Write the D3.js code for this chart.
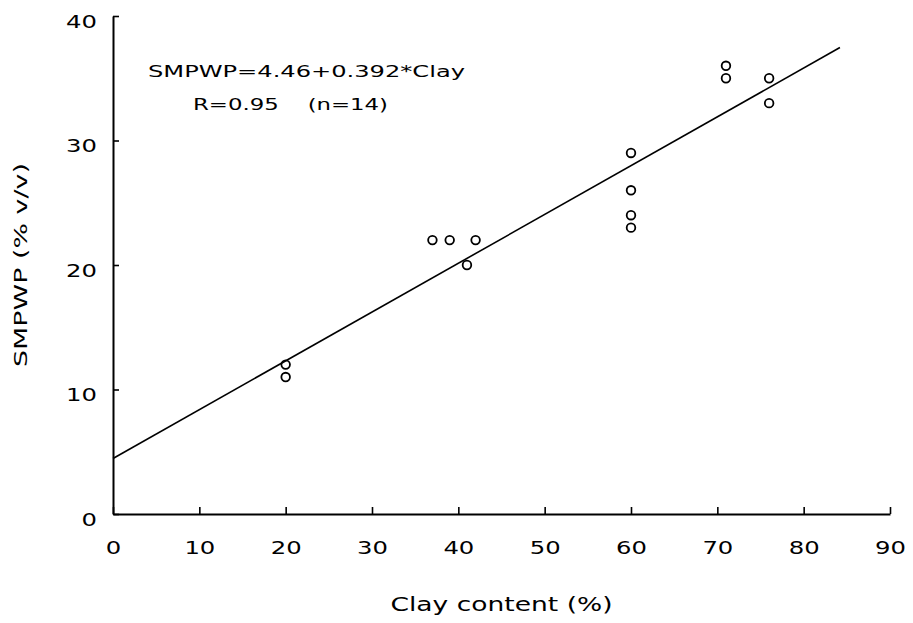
<!DOCTYPE html>
<html>
<head>
<meta charset="utf-8">
<script src="https://cdn.jsdelivr.net/npm/d3@7"></script>
<style>
  body { margin: 0; background: #fff; }
  svg text { font-family: "DejaVu Sans", sans-serif; fill: #000; }
</style>
</head>
<body>
<div id="chart"></div>
<script>
// clay content (%) and SMPWP (% v/v)
const clay = [20, 20, 37, 39, 42, 41, 60, 60, 60, 60, 71, 71, 76, 76];
const smpwp = [12, 11, 22, 22, 22, 20, 29, 26, 24, 23, 36, 35, 35, 33];
const xTicks = [0, 10, 20, 30, 40, 50, 60, 70, 80, 90];
const yTicks = [0, 10, 20, 30, 40];
const fit = { a: 4.46, b: 0.392, xEnd: 84.2 };
const notes = ['SMPWP=4.46+0.392*Clay', 'R=0.95    (n=14)'];

const width = 913;
const height = 623;
const margin = { top: 16, right: 23, bottom: 109, left: 113 };
const innerW = width - margin.left - margin.right;
const innerH = height - margin.top - margin.bottom;

const svg = d3.select('#chart')
  .append('svg')
    .attr('width', width)
    .attr('height', height)
  .append('g')
    .attr('transform', `translate(${margin.left}, ${margin.top})`);

const x = d3.scaleLinear().domain([0, 90]).range([0, innerW]);
const y = d3.scaleLinear().domain([0, 40]).range([innerH, 0]);

// stretch text horizontally, the original font is a wide plotter face
function widen(sel, k) {
  sel.each(function () {
    const w = this.getComputedTextLength();
    d3.select(this)
      .attr('textLength', w * k)
      .attr('lengthAdjust', 'spacingAndGlyphs');
  });
}

function fitWidth(sel, w) {
  sel.attr('textLength', w).attr('lengthAdjust', 'spacingAndGlyphs');
}

// x axis
const xAxis = svg.append('g')
  .attr('transform', `translate(0, ${innerH})`)
  .call(d3.axisBottom(x).tickValues(xTicks).tickSizeInner(-7).tickSizeOuter(0).tickPadding(0));
xAxis.select('.domain').attr('stroke-width', 2);
xAxis.selectAll('.tick line').attr('stroke-width', 1.6);
xAxis.selectAll('.tick text')
  .attr('dy', null)
  .attr('y', 40)
  .attr('font-size', 18)
  .call(widen, 1.35);

// y axis
const yAxis = svg.append('g')
  .call(d3.axisLeft(y).tickValues(yTicks).tickSizeInner(-6).tickSizeOuter(0).tickPadding(0));
yAxis.select('.domain').attr('stroke-width', 2);
yAxis.selectAll('.tick line').attr('stroke-width', 1.6);
yAxis.selectAll('.tick text')
  .attr('dy', null)
  .attr('x', -16)
  .attr('y', 11)
  .attr('font-size', 18)
  .call(widen, 1.35);

// regression line
svg.append('line')
  .attr('x1', x(0))
  .attr('y1', y(fit.a))
  .attr('x2', x(fit.xEnd))
  .attr('y2', y(fit.a + fit.b * fit.xEnd))
  .attr('stroke', '#000')
  .attr('stroke-width', 1.6);

// observations
svg.selectAll('circle.pt')
  .data(clay.map((c, i) => ({ c, s: smpwp[i] })))
  .join('circle')
    .attr('class', 'pt')
    .attr('cx', (d) => x(d.c))
    .attr('cy', (d) => y(d.s))
    .attr('r', 4.3)
    .attr('fill', 'none')
    .attr('stroke', '#000')
    .attr('stroke-width', 1.8);

// equation text
svg.append('text')
  .attr('x', 35)
  .attr('y', 61)
  .attr('font-size', 16)
  .text(notes[0])
  .call(fitWidth, 317);

svg.append('text')
  .attr('x', 80)
  .attr('y', 94)
  .attr('font-size', 16)
  .attr('xml:space', 'preserve')
  .style('white-space', 'pre')
  .text(notes[1])
  .call(fitWidth, 195);

// axis titles
svg.append('text')
  .attr('x', innerW / 2)
  .attr('y', innerH + 97)
  .attr('text-anchor', 'middle')
  .attr('font-size', 19)
  .text('Clay content (%)')
  .call(fitWidth, 222);

svg.append('text')
  .attr('transform', `translate(${-86}, ${innerH / 2}) rotate(-90)`)
  .attr('text-anchor', 'middle')
  .attr('font-size', 18)
  .text('SMPWP (% v/v)')
  .call(fitWidth, 204);
</script>
</body>
</html>
